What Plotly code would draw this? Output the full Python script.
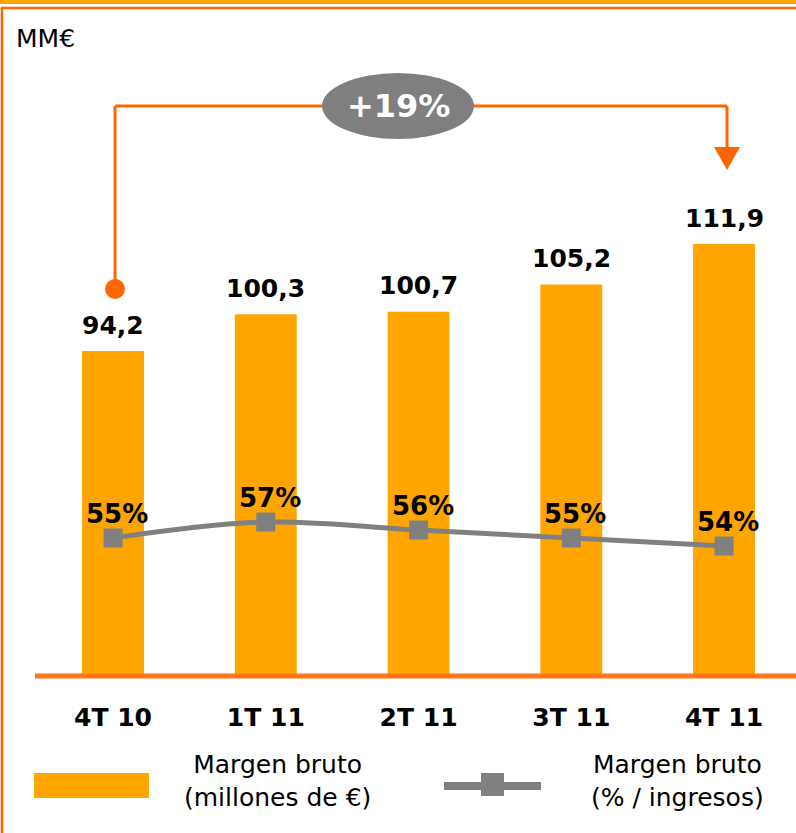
import plotly.graph_objects as go

categories = ["4T 10", "1T 11", "2T 11", "3T 11", "4T 11"]
margen_mm = [94.2, 100.3, 100.7, 105.2, 111.9]
margen_pct = [55, 57, 56, 55, 54]
growth_label = "+19%"
unit_label = "MM€"
legend_bar = "Margen bruto<br>(millones de €)"
legend_line = "Margen bruto<br>(% / ingresos)"

W, H = 796, 833
FONT = "DejaVu Sans"
ORANGE = "#FFA500"
DARK_OR = "#FF6600"
GRAY = "#808080"


def px(x):
    return x / W


def py(y):
    return 1 - y / H


xs = list(range(len(categories)))

fig = go.Figure()
fig.add_trace(go.Bar(x=xs, y=margen_mm, width=0.405, marker=dict(color=ORANGE, line=dict(width=0)),
                     yaxis="y", showlegend=False, hoverinfo="skip"))
fig.add_trace(go.Scatter(x=xs, y=margen_pct, yaxis="y2", mode="lines+markers",
                         line=dict(color=GRAY, width=5, shape="spline", smoothing=1),
                         marker=dict(symbol="square", size=19, color=GRAY),
                         showlegend=False, hoverinfo="skip"))

ann = []
for i, v in enumerate(margen_mm):
    ann.append(dict(x=i, y=v, xref="x", yref="y", text=f"{v:.1f}".replace(".", ","),
                    showarrow=False, yshift=26,
                    font=dict(family=FONT, size=25, color="#000000", weight="bold")))
for i, p in enumerate(margen_pct):
    ann.append(dict(x=i, y=p, xref="x", yref="y2", text=f"{p}%",
                    showarrow=False, yshift=24, xshift=4,
                    font=dict(family=FONT, size=26, color="#000000", weight="bold")))

ann.append(dict(x=px(14), y=py(38), xref="paper", yref="paper", text=unit_label, showarrow=False,
                xanchor="left", yanchor="middle", font=dict(family=FONT, size=25, color="#000000")))
ann.append(dict(x=px(398), y=py(106), xref="paper", yref="paper", text=growth_label, showarrow=False,
                xanchor="center", yanchor="middle",
                font=dict(family=FONT, size=32, color="#FFFFFF", weight="bold")))
ann.append(dict(x=px(277), y=py(781), xref="paper", yref="paper", text=legend_bar, showarrow=False,
                xanchor="center", yanchor="middle", align="center",
                font=dict(family=FONT, size=25, color="#000000")))
ann.append(dict(x=px(677), y=py(781), xref="paper", yref="paper", text=legend_line, showarrow=False,
                xanchor="center", yanchor="middle", align="center",
                font=dict(family=FONT, size=25, color="#000000")))

shapes = []
# top band and frame
shapes.append(dict(type="rect", xref="paper", yref="paper", x0=0, x1=1, y0=py(4), y1=1,
                   fillcolor=ORANGE, line=dict(width=0), layer="above"))
shapes.append(dict(type="line", xref="paper", yref="paper", x0=px(1), x1=1, y0=py(8), y1=py(8),
                   line=dict(color=DARK_OR, width=2.5)))
shapes.append(dict(type="line", xref="paper", yref="paper", x0=px(2), x1=px(2), y0=py(7), y1=0,
                   line=dict(color=DARK_OR, width=2.5)))
# baseline
shapes.append(dict(type="line", xref="paper", yref="paper", x0=px(35), x1=1, y0=py(676), y1=py(676),
                   line=dict(color="#FF7518", width=5), layer="above"))
# growth arrow
for (x0, y0, x1, y1) in [(115, 289, 115, 106), (115, 106, 727, 106), (727, 106, 727, 150)]:
    shapes.append(dict(type="line", xref="paper", yref="paper", x0=px(x0), y0=py(y0), x1=px(x1), y1=py(y1),
                       line=dict(color=DARK_OR, width=3)))
shapes.append(dict(type="path", xref="paper", yref="paper",
                   path=f"M {px(714)} {py(147)} L {px(740)} {py(147)} L {px(727)} {py(170)} Z",
                   fillcolor=DARK_OR, line=dict(width=0)))
shapes.append(dict(type="circle", xref="paper", yref="paper", x0=px(105), x1=px(125), y0=py(299), y1=py(279),
                   fillcolor=DARK_OR, line=dict(width=0)))
shapes.append(dict(type="circle", xref="paper", yref="paper", x0=px(322), x1=px(474), y0=py(139), y1=py(73),
                   fillcolor="#7F7F7F", line=dict(width=0)))
# legend symbols
shapes.append(dict(type="rect", xref="paper", yref="paper", x0=px(34), x1=px(149), y0=py(798), y1=py(773),
                   fillcolor=ORANGE, line=dict(width=0)))
shapes.append(dict(type="line", xref="paper", yref="paper", x0=px(444), x1=px(541), y0=py(786), y1=py(786),
                   line=dict(color=GRAY, width=8)))
shapes.append(dict(type="rect", xref="paper", yref="paper", x0=px(481), x1=px(504), y0=py(796), y1=py(773),
                   fillcolor=GRAY, line=dict(width=0)))

fig.update_layout(
    width=W, height=H,
    margin=dict(l=0, r=0, t=0, b=0, autoexpand=False),
    paper_bgcolor="white", plot_bgcolor="white",
    xaxis=dict(domain=[33 / W, 1], range=[-0.524, 4.471], tickvals=xs, ticktext=categories,
               ticks="outside", ticklen=19, tickcolor="rgba(0,0,0,0)", showgrid=False, zeroline=False,
               showline=False, tickfont=dict(family=FONT, size=25, color="#000000", weight="bold"),
               fixedrange=True),
    yaxis=dict(domain=[157 / H, 1], range=[40.44, 152.27], showgrid=False, zeroline=False,
               showticklabels=False, showline=False),
    yaxis2=dict(overlaying="y", range=[37.75, 122.25], showgrid=False, zeroline=False,
                showticklabels=False, showline=False, side="right"),
    annotations=ann, shapes=shapes, showlegend=False,
)

fig.write_html("out.html", config={"displayModeBar": False},
               post_script="document.body.style.margin='0';document.body.style.overflow='hidden';")
